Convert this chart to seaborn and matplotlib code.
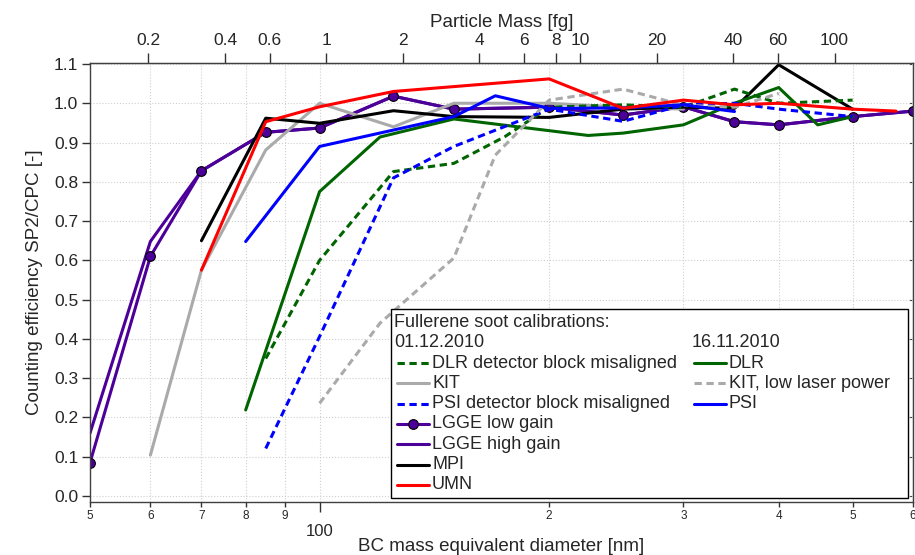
import numpy as np
import pandas as pd
import matplotlib
matplotlib.use("Agg")
import matplotlib.pyplot as plt
import seaborn as sns
from matplotlib.ticker import FixedLocator, FixedFormatter, NullLocator
from matplotlib.lines import Line2D
from matplotlib.patches import Rectangle

# BC density used for the mass axis [g/cm3]
RHO = 1.8

# ---- data ----
dlr_mis_d = [85, 100, 125, 150, 175, 200, 250, 300, 350, 400, 500]
dlr_mis = [0.35, 0.60, 0.826, 0.847, 0.915, 0.99, 0.996, 0.99, 1.036, 1.0, 1.008]

kit_d = [60, 70, 85, 100, 125, 150, 200, 250, 300]
kit = [0.104, 0.575, 0.881, 1.0, 0.94, 1.0, 1.0, 0.99, 0.985]

psi_mis_d = [85, 100, 125, 150, 200, 250, 300, 350, 400, 500]
psi_mis = [0.121, 0.406, 0.81, 0.89, 0.985, 0.954, 0.996, 1.0, 0.985, 0.966]

lgge_d = [50, 60, 70, 85, 100, 125, 150, 200, 250, 300, 350, 400, 500, 600]
lgge_low = [0.085, 0.61, 0.828, 0.926, 0.937, 1.018, 0.985, 0.99, 0.97, 0.991, 0.953, 0.945, 0.966, 0.98]
lgge_high = [0.16, 0.648, 0.828, 0.926, 0.937, 1.018, 0.985, 0.99, 0.97, 0.991, 0.953, 0.945, 0.966, 0.98]

mpi_d = [70, 85, 100, 125, 150, 200, 250, 300, 350, 400, 500]
mpi = [0.65, 0.962, 0.949, 0.981, 0.966, 0.964, 0.985, 0.99, 0.987, 1.098, 0.985]

umn_d = [70, 85, 100, 125, 200, 250, 300, 350, 400, 500, 570]
umn = [0.575, 0.953, 0.991, 1.03, 1.062, 0.987, 1.008, 0.996, 1.0, 0.985, 0.98]

dlr_d = [80, 100, 120, 150, 225, 250, 300, 350, 400, 450, 500]
dlr = [0.219, 0.775, 0.914, 0.96, 0.918, 0.924, 0.945, 1.0, 1.04, 0.945, 0.966]

kit_low_d = [100, 120, 150, 170, 200, 250, 300, 350, 400]
kit_low = [0.236, 0.44, 0.606, 0.868, 1.008, 1.036, 0.995, 0.99, 1.025]

psi_d = [80, 100, 150, 170, 200, 250, 300, 350]
psi = [0.648, 0.89, 0.966, 1.019, 0.987, 0.988, 0.996, 0.979]

bottom_minor = [50, 60, 70, 80, 90, 200, 300, 400, 500, 600]
bottom_minor_lbl = ['5', '6', '7', '8', '9', '2', '3', '4', '5', '6']
mass_ticks = [0.2, 0.4, 0.6, 1, 2, 4, 6, 8, 10, 20, 40, 60, 100]
mass_lbl = ['0.2', '0.4', '0.6', '1', '2', '4', '6', '8', '10', '20', '40', '60', '100']

GREEN = '#006400'
GRAY = '#aaaaaa'
BLUE = '#0000ff'
PURPLE = '#4d0099'
DASH = (0, (2.4, 1.5))

sns.set_style("ticks")
plt.rcParams['font.family'] = ['Liberation Sans', 'DejaVu Sans']

fig = plt.figure(figsize=(9.15, 5.55), dpi=100)
ax = fig.add_axes([90 / 915, 53 / 555, 823 / 915, 439 / 555])
ax.set_xscale('log')


def draw(d, v, **kw):
    df = pd.DataFrame({'d': d, 'eff': v})
    sns.lineplot(x='d', y='eff', data=df, ax=ax, lw=2.2, legend=False, **kw)


# series (later ones are drawn on top)
draw(lgge_d, lgge_high, color=PURPLE)
draw(lgge_d, lgge_low, color=PURPLE, marker='o', markersize=7,
     markerfacecolor=PURPLE, markeredgecolor='black', markeredgewidth=0.8)
draw(kit_d, kit, color=GRAY)
draw(mpi_d, mpi, color='black')
draw(dlr_d, dlr, color=GREEN)
draw(dlr_mis_d, dlr_mis, color=GREEN, linestyle=DASH)
draw(psi_mis_d, psi_mis, color=BLUE, linestyle=DASH)
draw(kit_low_d, kit_low, color=GRAY, linestyle=DASH)
draw(psi_d, psi, color=BLUE)
draw(umn_d, umn, color='red')

ax.set_xlim(50, 600)
ax.set_ylim(-0.0153, 1.1025)

# bottom axis: 100 as the only major tick, the rest as small minor labels
ax.xaxis.set_major_locator(FixedLocator([100]))
ax.xaxis.set_major_formatter(FixedFormatter(['100']))
ax.xaxis.set_minor_locator(FixedLocator(bottom_minor))
ax.xaxis.set_minor_formatter(FixedFormatter(bottom_minor_lbl))
ax.tick_params(axis='x', which='major', length=7, width=1, direction='out',
               labelsize=12, pad=9, color='#333333')
ax.tick_params(axis='x', which='minor', length=3.5, width=1, direction='out',
               labelsize=8.5, pad=2, color='#333333')
ax.set_yticks(np.arange(0, 1.11, 0.1))
ax.yaxis.set_major_formatter(matplotlib.ticker.FormatStrFormatter('%.1f'))
ax.tick_params(axis='y', length=5.5, width=1, direction='out', labelsize=12.5,
               pad=3, color='#333333')

ax.grid(axis='x', which='both', linestyle=':', color='#cfcfcf', lw=0.8)
ax.grid(axis='y', which='major', linestyle=':', color='#cfcfcf', lw=0.8)
for s in ax.spines.values():
    s.set_color('#404040')
    s.set_linewidth(1.0)

ax.set_xlabel('BC mass equivalent diameter [nm]', fontsize=13.5, labelpad=-1)
ax.set_ylabel('Counting efficiency SP2/CPC [-]', fontsize=13.5, labelpad=8)

# right axis: inward ticks only
rax = ax.secondary_yaxis('right')
rax.set_yticks(np.arange(0, 1.11, 0.1))
rax.tick_params(direction='in', length=3, labelright=False, color='#404040')
rax.spines['right'].set_color('#404040')


# top axis: particle mass in fg
def d2m(d):
    return RHO * np.pi / 6.0 * np.asarray(d, dtype=float) ** 3 * 1e-6


def m2d(m):
    return np.cbrt(np.asarray(m, dtype=float) / (RHO * np.pi / 6.0 * 1e-6))


tax = ax.secondary_xaxis('top', functions=(d2m, m2d))
tax.xaxis.set_major_locator(FixedLocator(mass_ticks))
tax.xaxis.set_major_formatter(FixedFormatter(mass_lbl))
tax.xaxis.set_minor_locator(NullLocator())
tax.tick_params(axis='x', length=7, width=1, direction='out', labelsize=12.5,
                pad=4, color='#333333')
tax.spines['top'].set_color('#404040')
tax.set_xlabel('Particle Mass [fg]', fontsize=13.5, labelpad=4)


# ---- legend box drawn by hand ----
def px(xp, yp):
    return (xp - 90) / 823, (502 - yp) / 439


x0, y0 = px(391, 498)
x1, y1 = px(908, 309)
ax.add_patch(Rectangle((x0, y0), x1 - x0, y1 - y0, transform=ax.transAxes,
                       facecolor='white', edgecolor='black', lw=1.0, zorder=20,
                       clip_on=False))
row_y = [322.5 + 20.3 * k for k in range(9)]
LFS = 13


def ltext(xp, yp, s):
    tx, ty = px(xp, yp)
    ax.text(tx, ty, s, transform=ax.transAxes, fontsize=LFS, va='center',
            ha='left', zorder=21)


def lhandle(xp, yp, label, dot=False, **kw):
    xa, ya = px(xp, yp)
    xb, _ = px(xp + 32, yp)
    ax.add_line(Line2D([xa, xb], [ya, ya], transform=ax.transAxes, lw=2.2,
                       zorder=21, clip_on=False, **kw))
    if dot:
        ax.add_line(Line2D([(xa + xb) / 2], [ya], transform=ax.transAxes,
                           linestyle='none', marker='o', markersize=7,
                           markerfacecolor=PURPLE, markeredgecolor='black',
                           markeredgewidth=0.8, zorder=22, clip_on=False))
    ltext(xp + 35, yp, label)


ltext(394, row_y[0], 'Fullerene soot calibrations:')
ltext(394, row_y[1], '01.12.2010')
ltext(692, row_y[1], '16.11.2010')

col1 = [
    ('DLR detector block misaligned', dict(color=GREEN, linestyle=DASH)),
    ('KIT', dict(color=GRAY)),
    ('PSI detector block misaligned', dict(color=BLUE, linestyle=DASH)),
    ('LGGE low gain', dict(color=PURPLE, dot=True)),
    ('LGGE high gain', dict(color=PURPLE)),
    ('MPI', dict(color='black')),
    ('UMN', dict(color='red')),
]
col2 = [
    ('DLR', dict(color=GREEN)),
    ('KIT, low laser power', dict(color=GRAY, linestyle=DASH)),
    ('PSI', dict(color=BLUE)),
]
for i, (lab, kw) in enumerate(col1):
    lhandle(397, row_y[i + 2], lab, **kw)
for i, (lab, kw) in enumerate(col2):
    lhandle(694, row_y[i + 2], lab, **kw)

fig.savefig('out.png', dpi=100)
